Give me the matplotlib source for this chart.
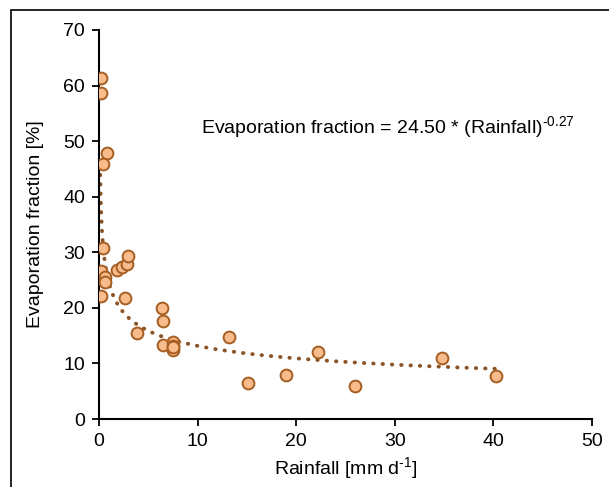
import numpy as np
import matplotlib
matplotlib.use("Agg")
import matplotlib.pyplot as plt
from matplotlib.patches import Rectangle

plt.rcParams["font.family"] = ["Liberation Sans", "DejaVu Sans"]
plt.rcParams["mathtext.fontset"] = "custom"
plt.rcParams["mathtext.rm"] = "Liberation Sans"

# observed rainfall [mm/d] and evaporation fraction [%]
rainfall = [0.2, 0.2, 0.78, 0.37, 0.44, 0.2, 0.6, 0.6, 0.2,
            1.86, 2.3, 2.8, 2.97, 2.6, 3.9, 6.35, 6.45, 6.5,
            7.55, 7.55, 7.55, 7.55, 13.2, 15.1, 18.97, 22.2, 26.0,
            34.75, 40.3]
evap_frac = [61.3, 58.6, 47.8, 45.9, 30.8, 26.6, 25.6, 24.6, 22.1,
             26.8, 27.4, 27.9, 29.3, 21.8, 15.5, 20.0, 17.6, 13.4,
             13.9, 13.2, 12.5, 12.9, 14.8, 6.4, 8.0, 12.0, 5.9,
             10.9, 7.8]

# power-law fit
fit_a = 24.50
fit_b = -0.27
fit_x_range = (0.1, 40.3)

x_ticks = [0, 10, 20, 30, 40, 50]
y_ticks = [0, 10, 20, 30, 40, 50, 60, 70]

fs = 14

fig = plt.figure(figsize=(6.09, 4.87), dpi=100)
ax = fig.add_axes([0.1626, 0.1396, 0.8094, 0.7988])

xf = np.linspace(fit_x_range[0], fit_x_range[1], 400)
ax.plot(xf, fit_a * xf ** fit_b, linestyle=(0, (0.1, 2.3)), color="#8a5426",
        linewidth=2.8, dash_capstyle="round", zorder=2)

ax.plot(rainfall, evap_frac, "o", markersize=8.5, markerfacecolor="#f8bb8c",
        markeredgecolor="#a65e22", markeredgewidth=1.4, linestyle="none", zorder=3)

ax.text(10.3, 52.4, "Evaporation fraction = 24.50 * (Rainfall)$^{\u2010\\mathregular{0.27}}$",
        fontsize=fs, ha="left", va="center")

ax.set_xlim(0, 50)
ax.set_ylim(0, 70)
ax.set_xticks(x_ticks)
ax.set_yticks(y_ticks)
ax.tick_params(direction="out", length=5, width=1.3, labelsize=fs, pad=5)
ax.spines["top"].set_visible(False)
ax.spines["right"].set_visible(False)
for s in ("left", "bottom"):
    ax.spines[s].set_linewidth(1.5)

ax.set_xlabel("Rainfall [mm d$^{\u20101}$]", fontsize=fs, labelpad=4)
ax.set_ylabel("Evaporation fraction [%]", fontsize=fs, labelpad=14)

# outer frame of the figure
fig.patches.append(Rectangle((11 / 609, -0.1), 1.1, 1.1 - 10 / 487,
                             transform=fig.transFigure, fill=False,
                             edgecolor="black", linewidth=1.2))

fig.savefig("out.png", dpi=100)
